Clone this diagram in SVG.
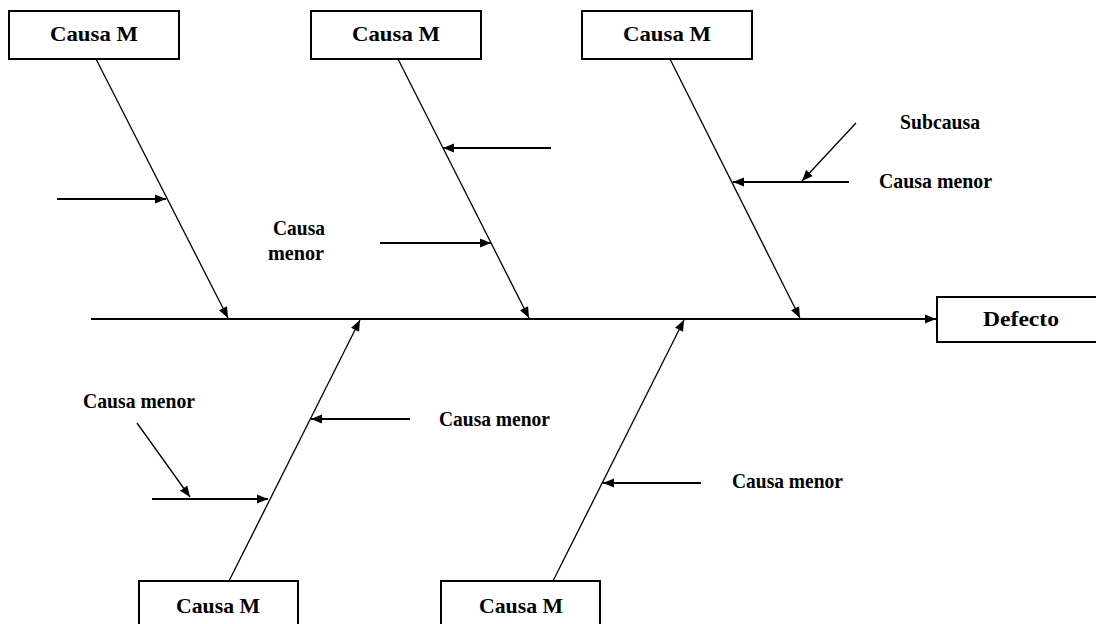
<svg xmlns="http://www.w3.org/2000/svg" width="1096" height="624" viewBox="0 0 1096 624">
<style>
.box{fill:#fff;stroke:#000;stroke-width:2}
.t{font-family:"Liberation Serif",serif;font-weight:bold;font-size:21px;fill:#000}
.c{text-anchor:middle}
.main{stroke:#000;stroke-width:2;fill:none}
.bone{stroke:#000;stroke-width:1.3;fill:none}
.sub{stroke:#000;stroke-width:1.8;fill:none}
</style>
<defs>
<marker id="ah" markerUnits="userSpaceOnUse" markerWidth="12" markerHeight="10" refX="11" refY="5" orient="auto">
<path d="M0,0.5 L11,5 L0,9.5 Z" fill="#000"/>
</marker>
</defs>
<rect width="1096" height="624" fill="#fff"/>
<g id="connectors">
<line class="main" x1="91" y1="319" x2="936" y2="319" marker-end="url(#ah)"/>
<line class="bone" x1="96" y1="59" x2="228" y2="318" marker-end="url(#ah)"/>
<line class="bone" x1="398" y1="59" x2="529" y2="318" marker-end="url(#ah)"/>
<line class="bone" x1="670" y1="59" x2="800" y2="318" marker-end="url(#ah)"/>
<line class="bone" x1="229" y1="581" x2="360" y2="320" marker-end="url(#ah)"/>
<line class="bone" x1="553" y1="581" x2="684" y2="320" marker-end="url(#ah)"/>
<line class="sub" x1="57" y1="199" x2="166" y2="199" marker-end="url(#ah)"/>
<line class="sub" x1="551" y1="148" x2="443" y2="148" marker-end="url(#ah)"/>
<line class="sub" x1="380" y1="243" x2="491" y2="243" marker-end="url(#ah)"/>
<line class="sub" x1="849" y1="182" x2="733" y2="182" marker-end="url(#ah)"/>
<line class="bone" x1="856" y1="123" x2="802" y2="181" marker-end="url(#ah)"/>
<line class="sub" x1="410" y1="419" x2="311" y2="419" marker-end="url(#ah)"/>
<line class="sub" x1="152" y1="499" x2="268" y2="499" marker-end="url(#ah)"/>
<line class="bone" x1="137" y1="423" x2="190" y2="497" marker-end="url(#ah)"/>
<line class="sub" x1="701" y1="483" x2="603" y2="483" marker-end="url(#ah)"/>
</g>
<g id="causa-top-1"><rect class="box" x="9" y="11" width="170" height="48"/><text class="t c" x="94" y="41" textLength="88" lengthAdjust="spacingAndGlyphs">Causa M</text></g>
<g id="causa-top-2"><rect class="box" x="311" y="11" width="170" height="48"/><text class="t c" x="396" y="41" textLength="88" lengthAdjust="spacingAndGlyphs">Causa M</text></g>
<g id="causa-top-3"><rect class="box" x="582" y="11" width="170" height="48"/><text class="t c" x="667" y="41" textLength="88" lengthAdjust="spacingAndGlyphs">Causa M</text></g>
<g id="causa-bottom-1"><rect class="box" x="139" y="581" width="159" height="50"/><text class="t c" x="218" y="613" textLength="84" lengthAdjust="spacingAndGlyphs">Causa M</text></g>
<g id="causa-bottom-2"><rect class="box" x="441" y="581" width="159" height="50"/><text class="t c" x="521" y="613" textLength="84" lengthAdjust="spacingAndGlyphs">Causa M</text></g>
<g id="defecto"><rect class="box" x="937" y="297" width="160" height="45"/><text class="t c" x="1021" y="326" textLength="76" lengthAdjust="spacingAndGlyphs">Defecto</text></g>
<g id="labels">
<text class="t" x="900" y="129" textLength="80" lengthAdjust="spacingAndGlyphs">Subcausa</text>
<text class="t" x="879" y="188" textLength="113" lengthAdjust="spacingAndGlyphs">Causa menor</text>
<text class="t" x="273" y="235" textLength="52" lengthAdjust="spacingAndGlyphs">Causa</text>
<text class="t" x="268" y="260" textLength="56" lengthAdjust="spacingAndGlyphs">menor</text>
<text class="t" x="83" y="408" textLength="112" lengthAdjust="spacingAndGlyphs">Causa menor</text>
<text class="t" x="439" y="426" textLength="111" lengthAdjust="spacingAndGlyphs">Causa menor</text>
<text class="t" x="732" y="488" textLength="111" lengthAdjust="spacingAndGlyphs">Causa menor</text>
</g>
</svg>
